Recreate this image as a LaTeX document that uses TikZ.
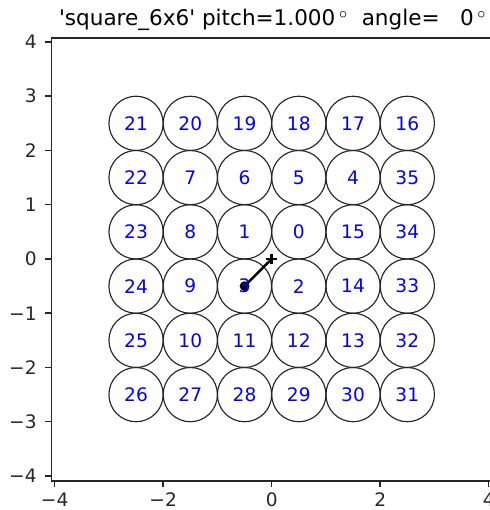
\documentclass[tikz,border=0pt]{standalone}
\usepackage{fontspec}
\setmainfont{DejaVu Sans}
\usetikzlibrary{positioning, calc}
\definecolor{lblblue}{HTML}{0000FF}
\definecolor{axgray}{HTML}{262626}

\begin{document}
\begin{tikzpicture}[
  x=1cm, y=1cm,
  ticklbl/.style={font=\fontsize{9.75}{11}\selectfont, inner sep=0pt, text=axgray},
  celllbl/.style={font=\fontsize{9.75}{11}\selectfont, inner sep=0pt, text=lblblue},
  cell/.style={draw=black!85, line width=0.6pt},
  spine/.style={draw=axgray, line width=0.8pt},
]
\useasboundingbox (-5.008,-4.627) rectangle (4.006,4.774);

% Axes limits
\pgfmathsetmacro{\xlo}{-4.06}
\pgfmathsetmacro{\xhi}{4.06}
\pgfmathsetmacro{\ylo}{-4.09}
\pgfmathsetmacro{\yhi}{4.07}
\pgfmathsetmacro{\tickl}{0.12}

% Title
\node[font=\fontsize{11.3}{14}\selectfont, anchor=base, inner sep=0pt] (title) at (0.02,4.295)
  {\textquotesingle square\_6x6\textquotesingle\ pitch=1.000\,$^{\circ}$\ \ angle=\hspace{0.954em}0\,$^{\circ}$};

% Cells of the 6x6 grid, row by row from the top
\foreach \lbl [count=\i from 0] in {21,20,19,18,17,16,
                                    22,7,6,5,4,35,
                                    23,8,1,0,15,34,
                                    24,9,3,2,14,33,
                                    25,10,11,12,13,32,
                                    26,27,28,29,30,31} {
  \pgfmathsetmacro{\cx}{-2.5+mod(\i,6)}
  \pgfmathsetmacro{\cy}{2.5-floor(\i/6)}
  \coordinate (p\lbl) at (\cx,\cy);
  \draw[cell] (p\lbl) circle (0.5);
}

% Offset vector: from cell 3 to the origin
\coordinate (orig) at (0,0);
\fill[black] (p3) circle (0.09);
\draw[black, line width=1.3pt] (p3) -- (orig);
\draw[black, line width=1.3pt] ($(orig)+(-0.1,0)$) -- ($(orig)+(0.1,0)$)
  ($(orig)+(0,-0.1)$) -- ($(orig)+(0,0.1)$);

% Cell labels
\foreach \lbl in {0,...,35} {
  \node[celllbl] (c\lbl) at (p\lbl) {\lbl};
}

% Spines
\draw[spine] (\xlo,\ylo) rectangle (\xhi,\yhi);

% x ticks
\foreach \t/\s in {-4/−4,-2/−2,0/0,2/2,4/4} {
  \draw[spine] (\t,\ylo) -- (\t,\ylo-\tickl);
  \node[ticklbl, anchor=base] (xt\t) at (\t,-4.565) {\s};
}

% y ticks
\foreach \t/\s in {-4/−4,-3/−3,-2/−2,-1/−1,0/0,1/1,2/2,3/3,4/4} {
  \draw[spine] (\xlo,\t) -- (\xlo-\tickl,\t);
  \node[ticklbl, anchor=east] (yt\t) at (-4.326,\t) {\s};
}

\end{tikzpicture}
\end{document}
